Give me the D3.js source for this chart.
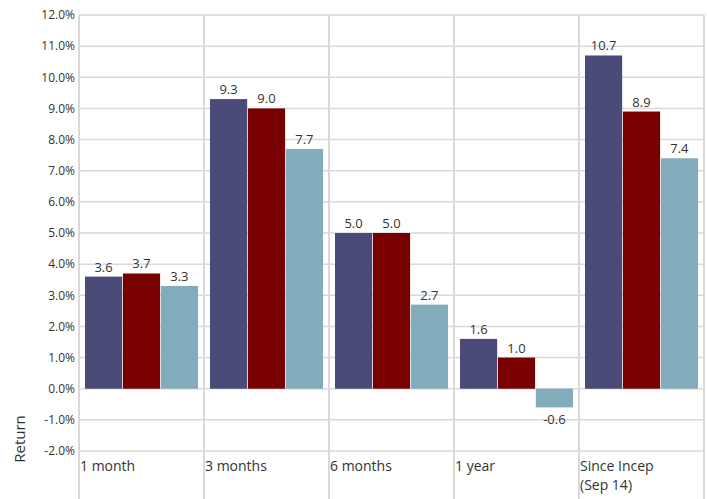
<!DOCTYPE html>
<html>
<head>
<meta charset="utf-8">
<script src="https://cdn.jsdelivr.net/npm/d3@7"></script>
<style>
  body { margin: 0; background: #fff; }
  text { font-family: "Century Gothic", "Open Sans", "DejaVu Sans", sans-serif; fill: #333; }
</style>
</head>
<body>
<div id="chart"></div>
<script>
// donnees
const categories = ["1 month", "3 months", "6 months", "1 year", "Since Incep\n(Sep 14)"]
const series = ["s1", "s2", "s3"]
const values1 = [3.6, 9.3, 5.0, 1.6, 10.7]
const values2 = [3.7, 9.0, 5.0, 1.0, 8.9]
const values3 = [3.3, 7.7, 2.7, -0.6, 7.4]
const yTicks = [-2, -1, 0, 1, 2, 3, 4, 5, 6, 7, 8, 9, 10, 11, 12]
const colors = ["#4b4b79", "#780000", "#82abbb"]

const allValues = [values1, values2, values3]
const fontFam = "\"Century Gothic\", \"Open Sans\", \"DejaVu Sans\", sans-serif"

const W = 707, H = 499
const margin = {top: 15, right: 3, bottom: 48, left: 79}
const width = W - margin.left - margin.right
const height = H - margin.top - margin.bottom

const svg = d3.select("#chart").append("svg")
  .attr("width", W).attr("height", H)
  .append("g")
  .attr("transform", "translate(" + margin.left + "," + margin.top + ")")

const x = d3.scaleBand().domain(categories).range([0, width]).paddingInner(0).paddingOuter(0)
const x1 = d3.scaleBand().domain(series).range([6, x.bandwidth() - 6]).paddingInner(0.02)
const y = d3.scaleLinear().domain([-2, 12]).range([height, 0])

// grille horizontale
svg.append("g").selectAll("line")
  .data(yTicks).enter().append("line")
  .attr("x1", 0).attr("x2", width)
  .attr("y1", d => y(d)).attr("y2", d => y(d))
  .attr("stroke", "#d9d9d9").attr("stroke-width", 1.5)

// lignes verticales entre les categories
const bounds = categories.map(c => x(c)).concat([width])
svg.append("g").selectAll("line")
  .data(bounds).enter().append("line")
  .attr("x1", d => d).attr("x2", d => d)
  .attr("y1", 0).attr("y2", H - margin.top)
  .attr("stroke", "#d9d9d9").attr("stroke-width", 2)

// axe Y
const yAxis = svg.append("g").call(d3.axisLeft(y).tickValues(yTicks).tickSize(0).tickPadding(4)
  .tickFormat(d => d.toFixed(1) + "%"))
yAxis.select(".domain").remove()
yAxis.selectAll("text").style("font-size", "12px").attr("fill", "#333")
  .style("font-family", fontFam)

// barres
const groups = svg.append("g").selectAll("g")
  .data(categories).enter().append("g")
  .attr("transform", d => "translate(" + x(d) + ",0)")

groups.selectAll("rect")
  .data((c, i) => series.map((s, j) => ({s: s, v: allValues[j][i], j: j})))
  .enter().append("rect")
  .attr("x", d => x1(d.s))
  .attr("width", x1.bandwidth())
  .attr("y", d => y(Math.max(0, d.v)))
  .attr("height", d => Math.abs(y(d.v) - y(0)))
  .attr("fill", d => colors[d.j])

groups.selectAll("text.val")
  .data((c, i) => series.map((s, j) => ({s: s, v: allValues[j][i], j: j})))
  .enter().append("text")
  .attr("class", "val")
  .attr("x", d => x1(d.s) + x1.bandwidth() / 2)
  .attr("y", d => d.v >= 0 ? y(d.v) - 5 : y(d.v) + 17)
  .attr("text-anchor", "middle")
  .style("font-size", "13px")
  .text(d => d.v.toFixed(1))

// etiquettes des categories (une ligne = un texte)
const catLines = []
categories.forEach(c => c.split("\n").forEach((l, i) => catLines.push({c: c, l: l, i: i})))
svg.append("g").selectAll("text")
  .data(catLines).enter().append("text")
  .attr("x", d => x(d.c) + 1)
  .attr("y", d => height + 20 + d.i * 19)
  .style("font-size", "14px")
  .text(d => d.l)

// titre axe Y
svg.append("text")
  .attr("transform", "rotate(-90)")
  .attr("x", -(height - 12))
  .attr("y", -margin.left + 25)
  .attr("text-anchor", "middle")
  .style("font-size", "15px")
  .text("Return")
</script>
</body>
</html>
